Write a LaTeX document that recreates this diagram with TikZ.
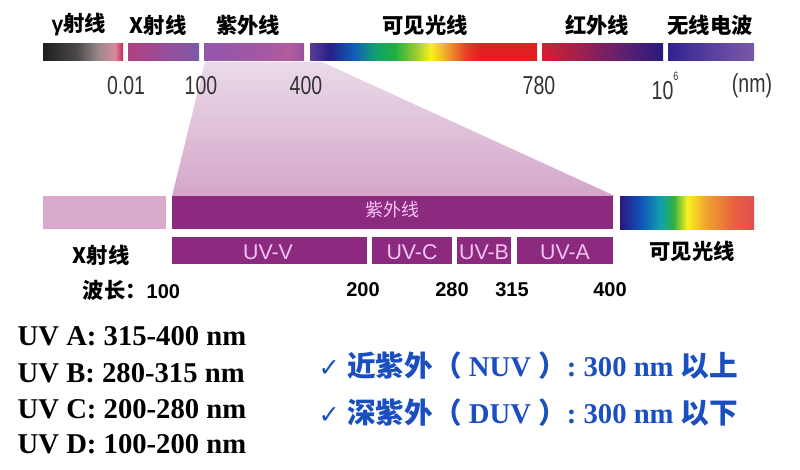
\documentclass[tikz,border=0pt]{standalone}
\usepackage{fontspec}
\setmainfont{Liberation Serif}
\setsansfont{Liberation Sans}
\newfontfamily\cjk{Noto Sans CJK SC}
\newfontfamily\symb{DejaVu Sans}

% band colours
\definecolor{gmA}{HTML}{1E1E1E}
\definecolor{gmB}{HTML}{4A4646}
\definecolor{gmC}{HTML}{9A8A8C}
\definecolor{gmD}{HTML}{D88A9C}
\definecolor{gmE}{HTML}{C8245A}
\definecolor{xrA}{HTML}{B0407E}
\definecolor{xrB}{HTML}{9A4C98}
\definecolor{xrC}{HTML}{7C5AAA}
\definecolor{uvA}{HTML}{9456AC}
\definecolor{uvB}{HTML}{A058A4}
\definecolor{uvC}{HTML}{B25C9C}
\definecolor{uvD}{HTML}{98509E}
\definecolor{vsA}{HTML}{5A3C96}
\definecolor{vsB}{HTML}{26208A}
\definecolor{vsC}{HTML}{1060B8}
\definecolor{vsD}{HTML}{10A070}
\definecolor{vsE}{HTML}{20B040}
\definecolor{vsF}{HTML}{A8D030}
\definecolor{vsG}{HTML}{F8F020}
\definecolor{vsH}{HTML}{F0A830}
\definecolor{vsI}{HTML}{E84028}
\definecolor{vsJ}{HTML}{E02020}
\definecolor{irA}{HTML}{D42030}
\definecolor{irB}{HTML}{A0204E}
\definecolor{irC}{HTML}{602070}
\definecolor{irD}{HTML}{2A1A80}
\definecolor{rdA}{HTML}{302090}
\definecolor{rdB}{HTML}{5A40A0}
\definecolor{rdC}{HTML}{7858A8}
\definecolor{mvA}{HTML}{2A1880}
\definecolor{mvB}{HTML}{1050B8}
\definecolor{mvC}{HTML}{10A0B0}
\definecolor{mvD}{HTML}{30B040}
\definecolor{mvE}{HTML}{F8F020}
\definecolor{mvF}{HTML}{F0A030}
\definecolor{mvG}{HTML}{E86040}
\definecolor{mvH}{HTML}{E05050}
\definecolor{trTop}{HTML}{EADAE8}
\definecolor{trBot}{HTML}{D4A6CA}
\definecolor{lightbar}{HTML}{D9AACB}
\definecolor{uvpurple}{HTML}{8C2A80}
\definecolor{uvpink}{HTML}{F4C4F0}
\definecolor{numgray}{HTML}{333333}
\definecolor{noteblue}{HTML}{1A4FC0}

% horizontal shadings (25bp..75bp is the band)
\pgfdeclarehorizontalshading{gammaband}{100bp}{color(0bp)=(gmA); color(25bp)=(gmA);
  color(45bp)=(gmB); color(60bp)=(gmC); color(70bp)=(gmD); color(75bp)=(gmE); color(100bp)=(gmE)}
\pgfdeclarehorizontalshading{xrayband}{100bp}{color(0bp)=(xrA); color(25bp)=(xrA);
  color(50bp)=(xrB); color(75bp)=(xrC); color(100bp)=(xrC)}
\pgfdeclarehorizontalshading{uvband}{100bp}{color(0bp)=(uvA); color(25bp)=(uvA);
  color(50bp)=(uvB); color(68bp)=(uvC); color(75bp)=(uvD); color(100bp)=(uvD)}
\pgfdeclarehorizontalshading{visband}{100bp}{color(0bp)=(vsA); color(25bp)=(vsA);
  color(29.4bp)=(vsB); color(34.9bp)=(vsC); color(39.3bp)=(vsD); color(43.7bp)=(vsE);
  color(48.8bp)=(vsF); color(51.5bp)=(vsG); color(54.8bp)=(vsH); color(59.2bp)=(vsI);
  color(62.5bp)=(vsJ); color(75bp)=(vsJ); color(100bp)=(vsJ)}
\pgfdeclarehorizontalshading{irband}{100bp}{color(0bp)=(irA); color(25bp)=(irA);
  color(40bp)=(irB); color(58bp)=(irC); color(75bp)=(irD); color(100bp)=(irD)}
\pgfdeclarehorizontalshading{radioband}{100bp}{color(0bp)=(rdA); color(25bp)=(rdA);
  color(50bp)=(rdB); color(75bp)=(rdC); color(100bp)=(rdC)}
\pgfdeclarehorizontalshading{lightband}{100bp}{color(0bp)=(mvA); color(25bp)=(mvA);
  color(32.5bp)=(mvB); color(40bp)=(mvC); color(45bp)=(mvD); color(50bp)=(mvE);
  color(57.5bp)=(mvF); color(67.5bp)=(mvG); color(75bp)=(mvH); color(100bp)=(mvH)}

\newcommand\narrow[1]{\scalebox{0.75}[1]{#1}}

\begin{document}
\begin{tikzpicture}[x=0.75pt, y=-0.75pt,
	toplbl/.style={font=\cjk\bfseries\fontsize{16}{18}\selectfont},
	topnum/.style={text=numgray, font=\sffamily\fontsize{19.5}{21}\selectfont},
	uvlbl/.style={text=uvpink, font=\sffamily\fontsize{16}{18}\selectfont},
	wlnum/.style={font=\sffamily\bfseries\fontsize{15}{17}\selectfont},
	rangetxt/.style={anchor=west, font=\bfseries\fontsize{21.5}{24}\selectfont},
	note/.style={anchor=west, text=noteblue, font=\bfseries\fontsize{21.5}{24}\selectfont}]
	\useasboundingbox (0,0) rectangle (800,469);
	\fill[white] (0,0) rectangle (800,469);
	% zoom onto the UV part (under the scale numbers)
	\shade[top color=trTop, bottom color=trBot] (205,62) -- (322,62) -- (615,196) -- (172,196) -- cycle;
	% the full spectrum
	\shade[shading=gammaband] (43,43) rectangle (123,60);
	\shade[shading=xrayband] (128,43) rectangle (199,60);
	\shade[shading=uvband] (204,43) rectangle (304,60);
	\shade[shading=visband] (310,43) rectangle (537,60);
	\shade[shading=irband] (542,43) rectangle (663,60);
	\shade[shading=radioband] (668,43) rectangle (754,60);
	\node[toplbl] (gamma) at (79,25) {{\sffamily γ}射线};
	\node[toplbl] (xray) at (158,25) {X射线};
	\node[toplbl] (uv) at (248,25) {紫外线};
	\node[toplbl] (vis) at (425,25) {可见光线};
	\node[toplbl] (ir) at (597,25) {红外线};
	\node[toplbl] (radio) at (710,25) {无线电波};
	\node[topnum] (n001) at (126,86) {\narrow{0.01}};
	\node[topnum] (n100) at (201,86) {\narrow{100}};
	\node[topnum] (n400) at (306,86) {\narrow{400}};
	\node[topnum] (n780) at (539,86) {\narrow{780}};
	\node[topnum] (n106) at (665,86) {\narrow{10\raisebox{1.4ex}{\fontsize{9}{9}\selectfont 6}}};
	\node[topnum] (unit) at (752,86) {\narrow{(nm)}};
	% UV part in detail
	\fill[lightbar] (43,196) rectangle (166,229);
	\fill[uvpurple] (172,196) rectangle (613,229);
	\shade[shading=lightband] (620,196) rectangle (754,229);
	\node[text=uvpink, font=\cjk\fontsize{13.5}{15}\selectfont] (uvname) at (392,210) {紫外线};
	% sub bands
	\fill[uvpurple] (172,237) rectangle (367,264);
	\fill[uvpurple] (372,237) rectangle (452,264);
	\fill[uvpurple] (457,237) rectangle (511,264);
	\fill[uvpurple] (517,237) rectangle (613,264);
	\node[uvlbl] (uvv) at (268,252) {UV-V};
	\node[uvlbl] (uvc) at (412,252) {UV-C};
	\node[uvlbl] (uvb) at (484,252) {UV-B};
	\node[uvlbl] (uva) at (565,252) {UV-A};
	\node[toplbl] (xlow) at (101,255) {X射线};
	\node[toplbl] (vislow) at (692,251) {可见光线};
	\node[anchor=west] (wl100) at (78,290) {{\cjk\bfseries\fontsize{16}{18}\selectfont 波长：}{\sffamily\bfseries\fontsize{15}{17}\selectfont 100}};
	\node[wlnum] (wl200) at (363,290) {200};
	\node[wlnum] (wl280) at (452,290) {280};
	\node[wlnum] (wl315) at (512,290) {315};
	\node[wlnum] (wl400) at (610,290) {400};
	% ranges
	\node[rangetxt] (ra) at (13,336) {UV A: 315-400 nm};
	\node[rangetxt] (rb) at (13,373) {UV B: 280-315 nm};
	\node[rangetxt] (rc) at (13,409) {UV C: 200-280 nm};
	\node[rangetxt] (rd) at (13,444) {UV D: 100-200 nm};
	\node[note] (nuv) at (314,366) {{\symb\mdseries\fontsize{19}{20}\selectfont ✓} {\cjk 近紫外（} NUV {\cjk ）}: 300 nm {\cjk 以上}};
	\node[note] (duv) at (314,413) {{\symb\mdseries\fontsize{19}{20}\selectfont ✓} {\cjk 深紫外（} DUV {\cjk ）}: 300 nm {\cjk 以下}};
\end{tikzpicture}
\end{document}
